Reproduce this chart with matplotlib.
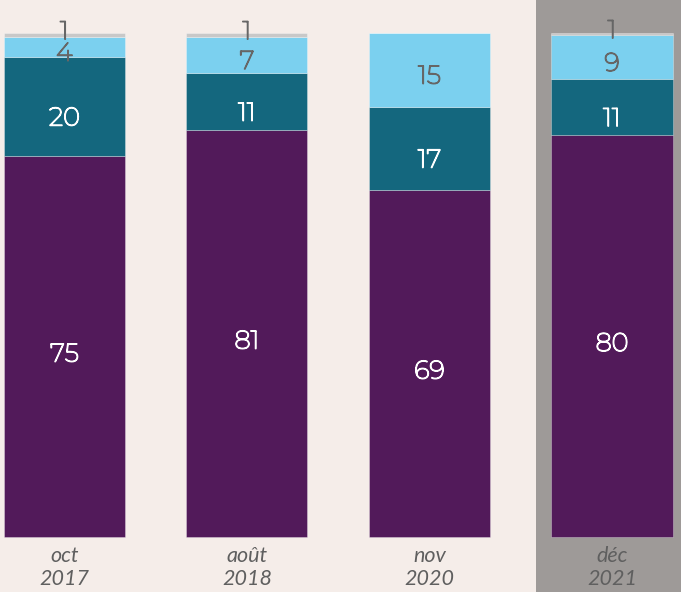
import matplotlib
matplotlib.use("Agg")
import matplotlib.pyplot as plt
import matplotlib.patheffects as pe
import numpy as np

# Data (shares in %)
categories = ["oct\n2017", "août\n2018", "nov\n2020", "déc\n2021"]
purple_vals = [75.5, 80.65, 68.75, 79.7]
teal_vals = [19.75, 11.36, 16.58, 11.1]
light_vals = [3.9, 7.14, 14.67, 8.78]
grey_vals = [0.85, 0.85, 0.0, 0.42]

purple_lbl = ["75", "81", "69", "80"]
teal_lbl = ["20", "11", "17", "11"]
light_lbl = ["4", "7", "15", "9"]
grey_lbl = ["1", "1", "", "1"]

BG = "#f5ede9"
HL = "#9e9a98"
colors = ["#521a5a", "#14677e", "#7bd0ef", "#c8c8c8"]
txt_colors = ["white", "white", "#666666", "#666666"]
label_offsets = [-1.5, -2.3, -1.3, 0.6]

fig = plt.figure(figsize=(6.81, 5.92), dpi=100, facecolor=BG)
ax = fig.add_axes([0, 0, 1, 1])
ax.set_facecolor(BG)
for s in ax.spines.values():
    s.set_visible(False)
ax.set_xticks([])
ax.set_yticks([])

x = np.arange(len(categories))
ax.set_xlim(-0.353, 3.378)
ax.set_ylim(-10.9, 106.48)
ax.axvspan(2.584, 3.378, color=HL, zorder=0, lw=0)

width = 0.663
series = [purple_vals, teal_vals, light_vals, grey_vals]
labels = [purple_lbl, teal_lbl, light_lbl, grey_lbl]
bottom = np.zeros(len(categories))
for vals, lbls, col, tcol, yoff in zip(series, labels, colors, txt_colors, label_offsets):
    vals = np.array(vals)
    ax.bar(x, vals, width, bottom=bottom, color=col, edgecolor=(1, 1, 1, 0.35),
           linewidth=0.6, zorder=2)
    for xi, b, v, l in zip(x, bottom, vals, lbls):
        if l:
            ax.text(xi, b + v / 2 + yoff, l, ha="center", va="center",
                    color=tcol, fontsize=18.5, family=["Montserrat", "Lato", "DejaVu Sans"],
                    zorder=3,
                    path_effects=[pe.withStroke(linewidth=1.0, foreground=tcol)])
    bottom = bottom + vals

for xi, c in zip(x, categories):
    ax.text(xi, -1.8, c, ha="center", va="top", fontsize=15.5, style="italic",
            family="Lato", color="#5f5f5f", linespacing=1.2)

fig.savefig("out.png", dpi=100, facecolor=BG)
